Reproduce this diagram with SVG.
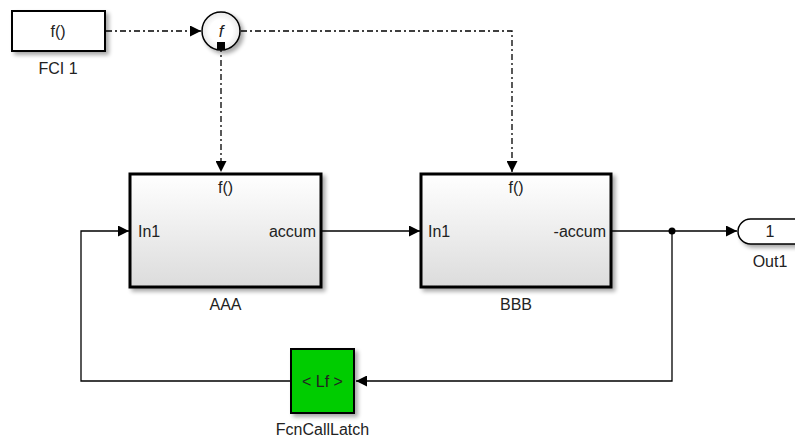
<svg xmlns="http://www.w3.org/2000/svg" width="795" height="437" viewBox="0 0 795 437">
<defs>
<linearGradient id="grad" x1="0" y1="0" x2="0" y2="1">
<stop offset="0" stop-color="#ffffff"/>
<stop offset="1" stop-color="#dcdcdc"/>
</linearGradient>
<radialGradient id="cgrad" cx="0.5" cy="0.5" r="0.5">
<stop offset="0.6" stop-color="#ffffff"/>
<stop offset="1" stop-color="#e8e8e8"/>
</radialGradient>
<filter id="sh" x="-20%" y="-20%" width="150%" height="150%">
<feGaussianBlur in="SourceAlpha" stdDeviation="2"/>
<feOffset dx="3" dy="3" result="b"/>
<feComponentTransfer><feFuncA type="linear" slope="0.35"/></feComponentTransfer>
<feMerge><feMergeNode/><feMergeNode in="SourceGraphic"/></feMerge>
</filter>
<marker id="arr" viewBox="0 0 10 10" refX="10" refY="5" markerWidth="11" markerHeight="11" markerUnits="userSpaceOnUse" orient="auto">
<path d="M0,0 L10,5 L0,10 Z" fill="#000"/>
</marker>
</defs>
<style>
text{font-family:"Liberation Sans",Arial,sans-serif;fill:#222;}
.lbl{font-size:16px;text-anchor:middle;}
.port{font-size:16px;}
.blk{stroke:#000;stroke-width:3;fill:url(#grad);}
.sig{fill:none;stroke:#000;stroke-width:1.3;}
.fc{fill:none;stroke:#000;stroke-width:1.3;stroke-dasharray:6,3,2,3;}
</style>
<rect width="795" height="437" fill="#fff"/>

<g id="connectors">
<path class="fc" d="M106,31 H201" marker-end="url(#arr)"/>
<path class="fc" d="M221,46 V172" marker-end="url(#arr)"/>
<path class="fc" d="M241,31 H512 V172" marker-end="url(#arr)"/>
<path class="sig" d="M322,231 H420" marker-end="url(#arr)"/>
<path class="sig" d="M612,231 H737" marker-end="url(#arr)"/>
<path class="sig" d="M672,231 V381 H356" marker-end="url(#arr)"/>
<path class="sig" d="M291,381 H81 V231 H129" marker-end="url(#arr)"/>
<circle cx="672" cy="231" r="3.5" fill="#000"/>
</g>

<g id="FCI1">
<rect x="12" y="11" width="93" height="40" fill="#fff" stroke="#000" stroke-width="2" filter="url(#sh)"/>
<text x="58" y="37" class="lbl" font-size="15">f()</text>
<text x="58" y="74" class="lbl">FCI 1</text>
</g>

<g id="FcnCallSplit">
<circle cx="221" cy="31" r="19" fill="url(#cgrad)" stroke="#000" stroke-width="1.5" filter="url(#sh)"/>
<text x="221" y="37" font-family="'Liberation Serif',serif" font-style="italic" font-size="17" text-anchor="middle">f</text>
<rect x="217" y="42" width="8" height="8" fill="#000"/>
</g>

<g id="AAA">
<rect x="130" y="174" width="191" height="113" class="blk" filter="url(#sh)"/>
<text x="225.5" y="193" class="lbl" font-size="15">f()</text>
<text x="138" y="237" class="port">In1</text>
<text x="316" y="237" class="port" text-anchor="end">accum</text>
<text x="225.5" y="310" class="lbl">AAA</text>
</g>

<g id="BBB">
<rect x="421" y="174" width="190" height="113" class="blk" filter="url(#sh)"/>
<text x="516" y="193" class="lbl" font-size="15">f()</text>
<text x="428" y="237" class="port">In1</text>
<text x="606" y="237" class="port" text-anchor="end">-accum</text>
<text x="516" y="310" class="lbl">BBB</text>
</g>

<g id="Out1">
<rect x="738" y="219" width="70" height="25" rx="12.5" fill="#fff" stroke="#000" stroke-width="1.5" filter="url(#sh)"/>
<text x="770" y="237" class="lbl">1</text>
<text x="770" y="267" class="lbl">Out1</text>
</g>

<g id="FcnCallLatch">
<rect x="291" y="349" width="63" height="64" fill="#00cc00" stroke="#000" stroke-width="2" filter="url(#sh)"/>
<text x="322.5" y="387" font-family="'Liberation Serif',serif" font-size="16" text-anchor="middle">&lt; Lf &gt;</text>
<text x="322.5" y="435" class="lbl">FcnCallLatch</text>
</g>
</svg>
